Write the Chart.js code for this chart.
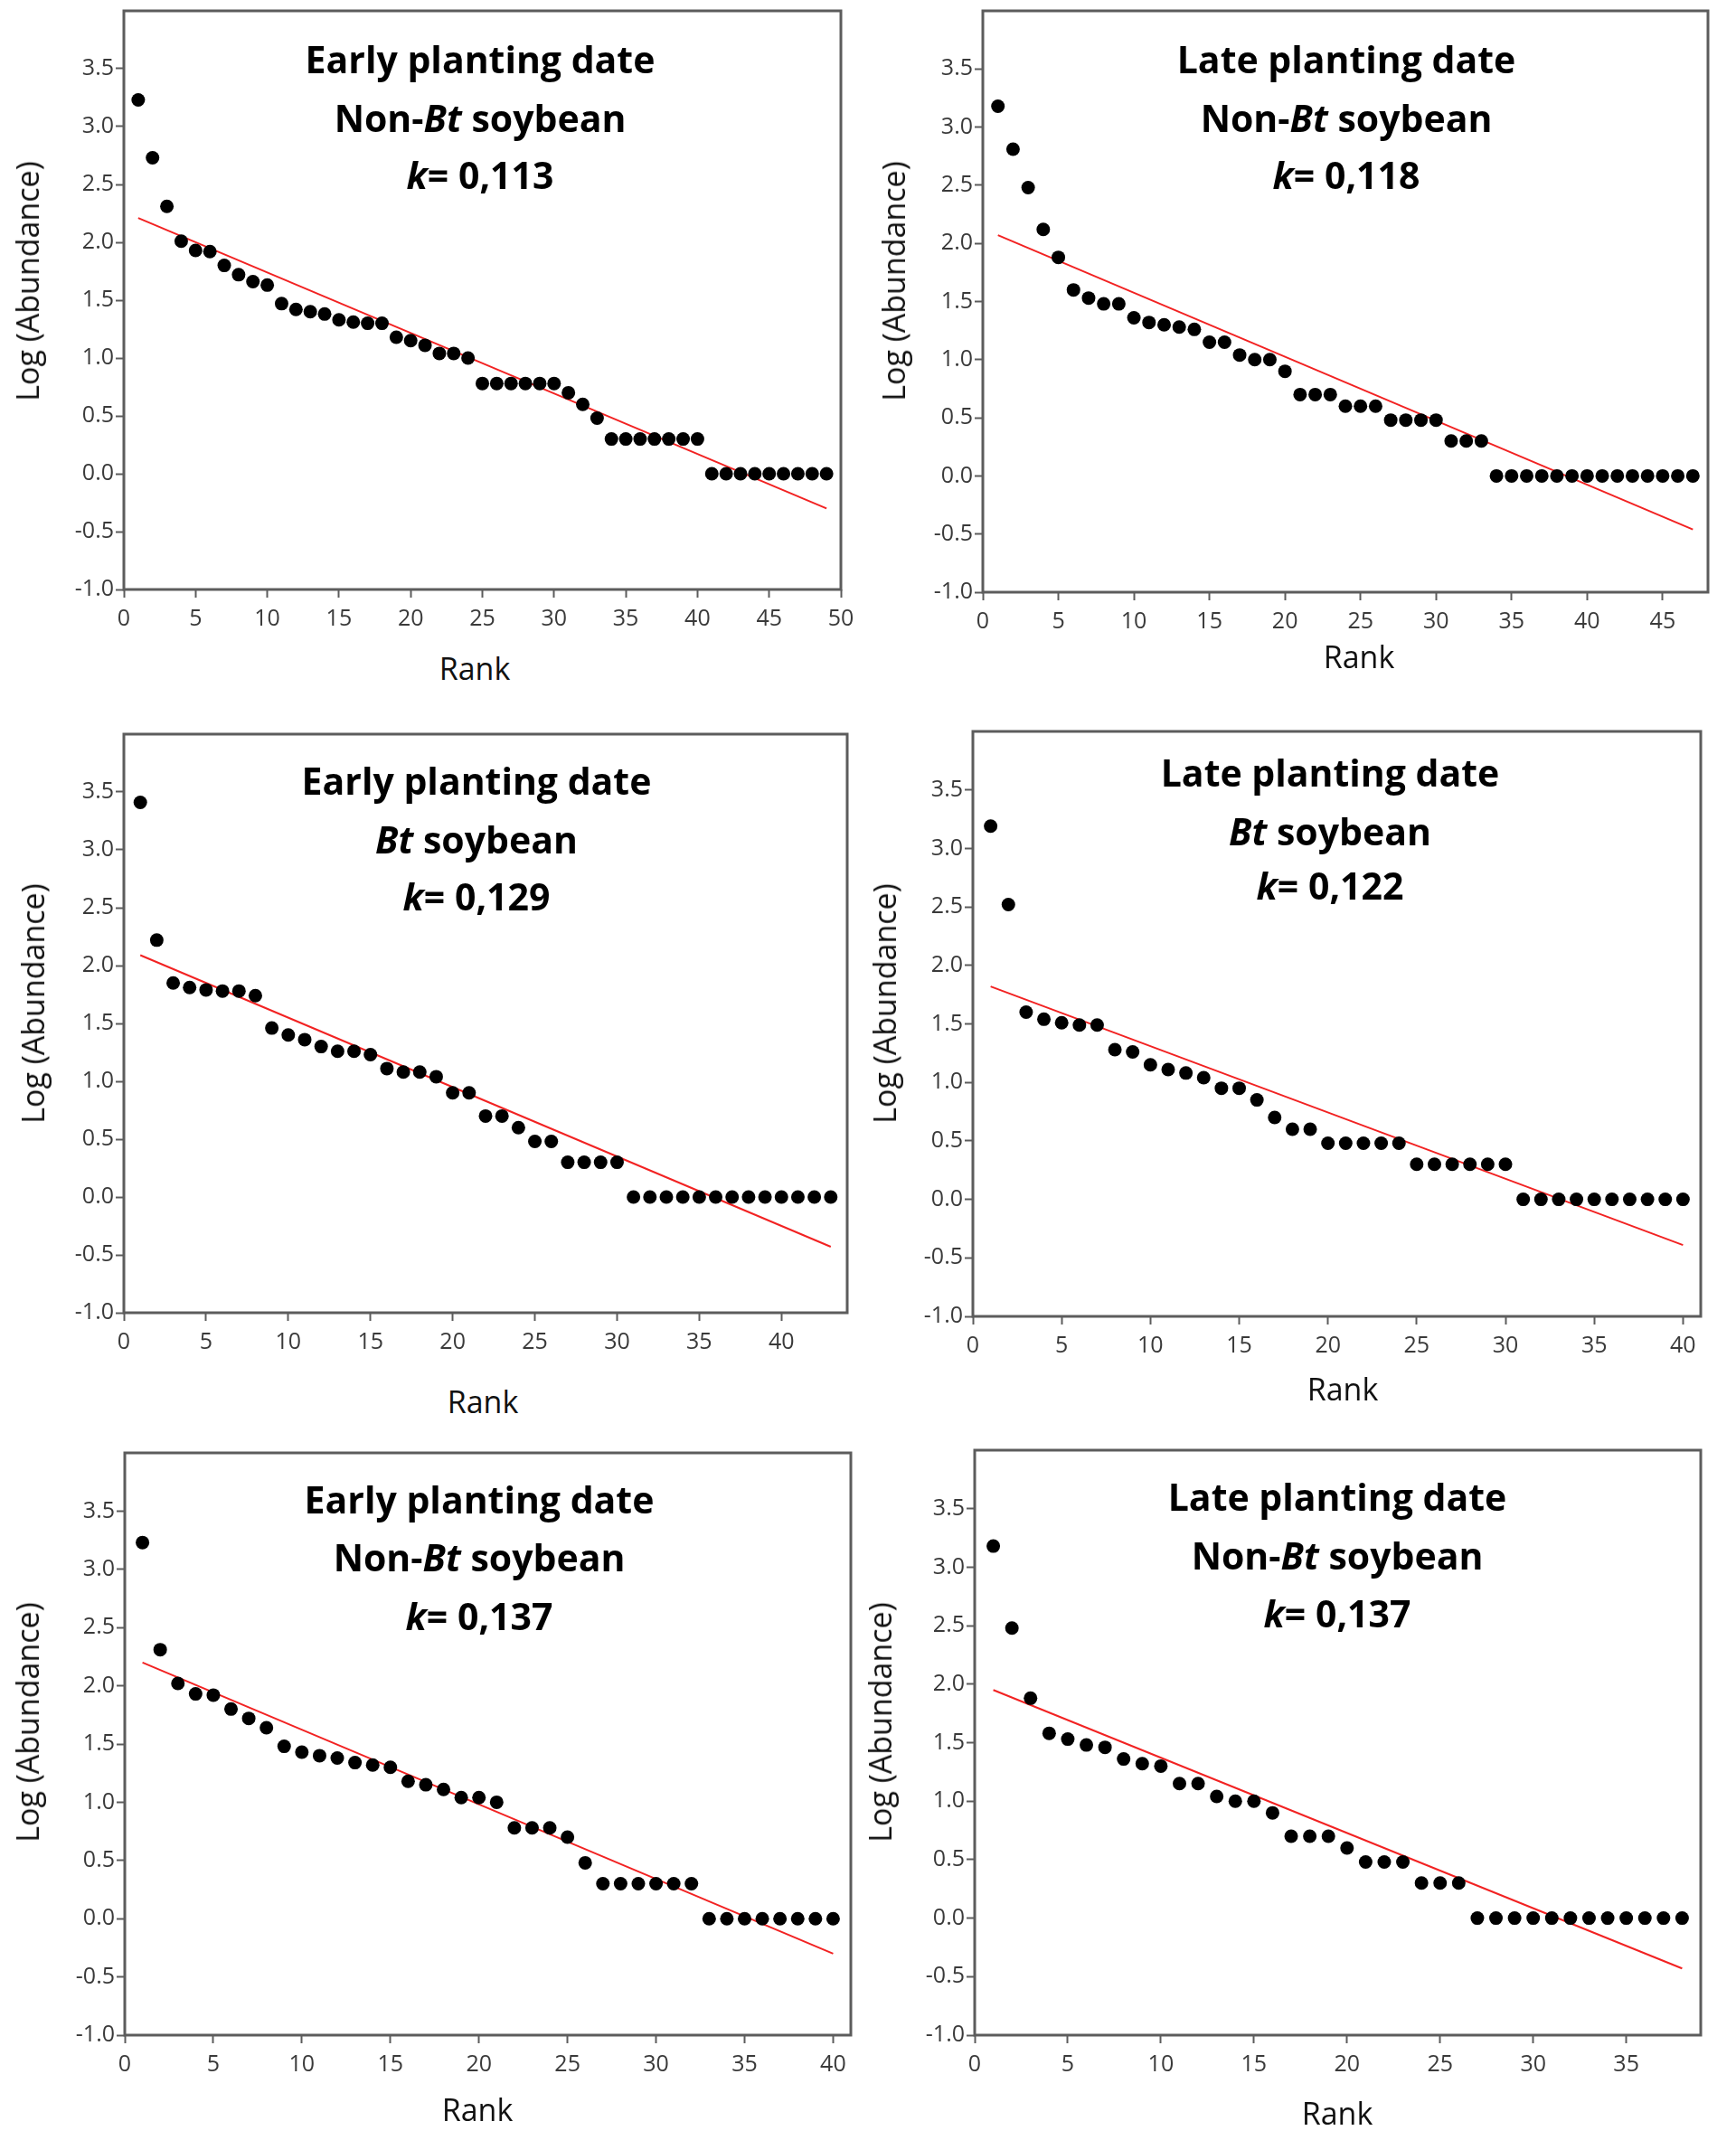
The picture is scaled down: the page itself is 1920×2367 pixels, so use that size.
<!DOCTYPE html>
<html><head><meta charset="utf-8">
<script src="https://cdn.jsdelivr.net/npm/chart.js@4.4.0/dist/chart.umd.min.js"></script>
<style>
html,body{margin:0;padding:0;background:#fff;}
body{width:1920px;height:2367px;position:relative;overflow:hidden;font-family:"Open Sans",sans-serif;}
canvas{position:absolute;}
.ttl{position:absolute;font-family:"Open Sans",sans-serif;font-weight:700;font-size:41px;line-height:64px;color:#000;text-align:center;white-space:nowrap;transform:translate(-50%,-50%);}
.axt{position:absolute;font-family:"Open Sans",sans-serif;font-size:34px;color:#111;white-space:nowrap;transform:translate(-50%,-50%);}
.axt.rot{transform:translate(-50%,-50%) rotate(-90deg);}
</style></head><body>
<script>
// ---- data (log10 abundance by rank) ----
const p1Values = [3.23,2.73,2.31,2.01,1.93,1.92,1.80,1.72,1.66,1.63,1.47,1.42,1.40,1.38,1.33,1.31,1.30,1.30,1.18,1.15,1.11,1.04,1.04,1.00,0.78,0.78,0.78,0.78,0.78,0.78,0.70,0.60,0.48,0.30,0.30,0.30,0.30,0.30,0.30,0.30,0,0,0,0,0,0,0,0,0];
const p2Values = [3.18,2.81,2.48,2.12,1.88,1.60,1.53,1.48,1.48,1.36,1.32,1.30,1.28,1.26,1.15,1.15,1.04,1.00,1.00,0.90,0.70,0.70,0.70,0.60,0.60,0.60,0.48,0.48,0.48,0.48,0.30,0.30,0.30,0,0,0,0,0,0,0,0,0,0,0,0,0,0];
const p3Values = [3.41,2.22,1.85,1.81,1.79,1.78,1.78,1.74,1.46,1.40,1.36,1.30,1.26,1.26,1.23,1.11,1.08,1.08,1.04,0.90,0.90,0.70,0.70,0.60,0.48,0.48,0.30,0.30,0.30,0.30,0,0,0,0,0,0,0,0,0,0,0,0,0];
const p4Values = [3.19,2.52,1.60,1.54,1.51,1.49,1.49,1.28,1.26,1.15,1.11,1.08,1.04,0.95,0.95,0.85,0.70,0.60,0.60,0.48,0.48,0.48,0.48,0.48,0.30,0.30,0.30,0.30,0.30,0.30,0,0,0,0,0,0,0,0,0,0];
const p5Values = [3.23,2.31,2.02,1.93,1.92,1.80,1.72,1.64,1.48,1.43,1.40,1.38,1.34,1.32,1.30,1.18,1.15,1.11,1.04,1.04,1.00,0.78,0.78,0.78,0.70,0.48,0.30,0.30,0.30,0.30,0.30,0.30,0,0,0,0,0,0,0,0];
const p6Values = [3.18,2.48,1.88,1.58,1.53,1.48,1.46,1.36,1.32,1.30,1.15,1.15,1.04,1.00,1.00,0.90,0.70,0.70,0.70,0.60,0.48,0.48,0.48,0.30,0.30,0.30,0,0,0,0,0,0,0,0,0,0,0,0];
// regression line end values (at rank 1 and at last rank)
const fitStart = [2.21,2.07,2.09,1.82,2.20,1.95];
const fitEnd   = [-0.30,-0.46,-0.43,-0.39,-0.30,-0.43];
const xMaxes   = [50,48,44,41,41,39];
const yMin = -1.0, yMax = 4.0, yStep = 0.5, xStep = 5;
const titleLine1 = ["Early planting date","Late planting date","Early planting date","Late planting date","Early planting date","Late planting date"];
const titleLine2 = ["Non-<i>Bt</i> soybean","Non-<i>Bt</i> soybean","<i>Bt</i> soybean","<i>Bt</i> soybean","Non-<i>Bt</i> soybean","Non-<i>Bt</i> soybean"];
const titleLine3 = ["<i>k</i>= 0,113","<i>k</i>= 0,118","<i>k</i>= 0,129","<i>k</i>= 0,122","<i>k</i>= 0,137","<i>k</i>= 0,137"];
const xAxisTitle = "Rank";
const yAxisTitle = "Log (Abundance)";
const allValues = [p1Values,p2Values,p3Values,p4Values,p5Values,p6Values];

// ---- layout (page pixels) ----
const frames = [
  {L:137, R:930, T:12,  B:652,  cl:0,   ty:[65,130,193],    tx:531,  rx:525,  ry:739,  yx:30,  yy:311},
  {L:1087,R:1889,T:12,  B:655,  cl:960, ty:[65,130,193],    tx:1489, rx:1503, ry:726,  yx:988, yy:311},
  {L:137, R:937, T:812, B:1452, cl:0,   ty:[863,928,991],   tx:527,  rx:534,  ry:1550, yx:36,  yy:1110},
  {L:1076,R:1881,T:809, B:1456, cl:960, ty:[854,919,979],   tx:1471, rx:1485, ry:1536, yx:978, yy:1110},
  {L:138, R:941, T:1607,B:2251, cl:0,   ty:[1658,1722,1787],tx:530,  rx:528,  ry:2333, yx:30,  yy:1905},
  {L:1078,R:1881,T:1604,B:2251, cl:960, ty:[1655,1720,1784],tx:1479, rx:1479, ry:2337, yx:973, yy:1905}
];

const frameBox = {
  id:'frameBox',
  afterDraw(chart){
    const a = chart.chartArea, c = chart.ctx;
    c.save(); c.strokeStyle='#5c5c5c'; c.lineWidth=3;
    c.strokeRect(a.left, a.top, a.right-a.left, a.bottom-a.top);
    c.restore();
  }
};

function addDiv(cls, html, x, y){
  const d = document.createElement('div');
  d.className = cls; d.innerHTML = html;
  d.style.left = x+'px'; d.style.top = y+'px';
  document.body.appendChild(d);
}

frames.forEach((f,i)=>{
  const padTop = 24, padRight = 34, xH = 64;
  const wY = f.L - f.cl;
  const cv = document.createElement('canvas');
  const cw = f.R + padRight - f.cl;
  const ch = (f.B - f.T) + padTop + xH;
  cv.width = cw; cv.height = ch;
  cv.style.width = cw+'px'; cv.style.height = ch+'px';
  cv.style.left = f.cl+'px'; cv.style.top = (f.T - padTop)+'px';
  document.body.appendChild(cv);
  const vals = allValues[i];
  const pts = vals.map((v,k)=>({x:k+1, y:v}));
  const tickFont = {family:'"Open Sans", sans-serif', size:25};
  new Chart(cv.getContext('2d'), {
    type:'scatter',
    data:{datasets:[
      {data:pts, backgroundColor:'#000', borderColor:'#000', pointRadius:7.5, pointHoverRadius:7.5, borderWidth:0},
      {type:'line', data:[{x:1,y:fitStart[i]},{x:vals.length,y:fitEnd[i]}], borderColor:'#f22222', borderWidth:2, pointRadius:0, fill:false, tension:0}
    ]},
    options:{
      responsive:false, animation:false, devicePixelRatio:1,
      layout:{padding:{top:padTop,right:padRight,left:0,bottom:0}},
      plugins:{legend:{display:false}, tooltip:{enabled:false}},
      scales:{
        x:{type:'linear', min:0, max:xMaxes[i],
           afterFit(s){ s.height = xH; },
           border:{display:false},
           grid:{drawOnChartArea:false, drawTicks:true, tickLength:9, tickColor:'#5c5c5c', tickWidth:2},
           ticks:{stepSize:xStep, includeBounds:false, color:'#3a3a3a', font:tickFont, padding:9, maxRotation:0,
                  callback:v=> (v % xStep === 0 ? String(v) : '')}},
        y:{type:'linear', min:yMin, max:yMax,
           afterFit(s){ s.width = wY; },
           border:{display:false},
           grid:{drawOnChartArea:false, drawTicks:true, tickLength:9, tickWidth:2,
                 tickColor:ctx=> (ctx.tick && ctx.tick.value > 3.75 ? 'rgba(0,0,0,0)' : '#5c5c5c')},
           ticks:{stepSize:yStep, color:'#3a3a3a', font:tickFont, padding:2,
                  callback:v=> (v > 3.75 ? '' : Number(v).toFixed(1))}}
      }
    },
    plugins:[frameBox]
  });
  addDiv('ttl', titleLine1[i], f.tx, f.ty[0]);
  addDiv('ttl', titleLine2[i], f.tx, f.ty[1]);
  addDiv('ttl', titleLine3[i], f.tx, f.ty[2]);
  addDiv('axt', xAxisTitle, f.rx, f.ry);
  addDiv('axt rot', yAxisTitle, f.yx, f.yy);
});
</script>
</body></html>
